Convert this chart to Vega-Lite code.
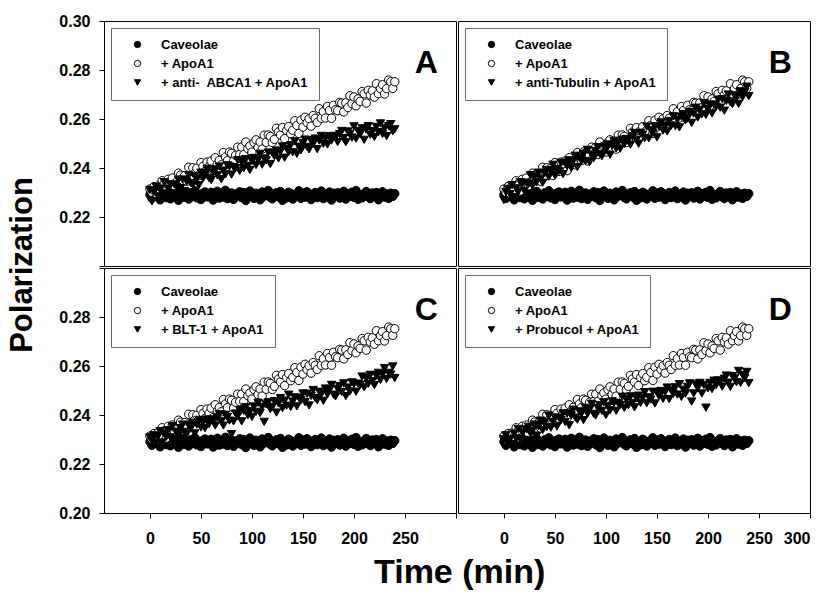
{
"$schema": "https://vega.github.io/schema/vega-lite/v6.json",
"background": "white",
"padding": {"left": 7, "top": 12, "right": 4, "bottom": 5},
"title": {"text": "Polarization", "orient": "left", "anchor": "middle", "fontSize": 31, "fontWeight": "bold", "font": "Liberation Sans", "color": "black", "offset": 19, "dx": 36},
"datasets": {"pts": [
{"series":"cav","t":0,"p":0.2291},{"series":"cav","t":2,"p":0.2276},{"series":"cav","t":4,"p":0.2296},{"series":"cav","t":6,"p":0.2303},{"series":"cav","t":8,"p":0.2283},{"series":"cav","t":10,"p":0.2270},{"series":"cav","t":12,"p":0.2298},{"series":"cav","t":14,"p":0.2290},{"series":"cav","t":16,"p":0.2279},{"series":"cav","t":18,"p":0.2308},
{"series":"cav","t":20,"p":0.2274},{"series":"cav","t":22,"p":0.2294},{"series":"cav","t":24,"p":0.2285},{"series":"cav","t":26,"p":0.2300},{"series":"cav","t":28,"p":0.2268},{"series":"cav","t":30,"p":0.2295},{"series":"cav","t":32,"p":0.2304},{"series":"cav","t":34,"p":0.2280},{"series":"cav","t":36,"p":0.2289},{"series":"cav","t":38,"p":0.2273},
{"series":"cav","t":40,"p":0.2299},{"series":"cav","t":42,"p":0.2284},{"series":"cav","t":44,"p":0.2307},{"series":"cav","t":46,"p":0.2278},{"series":"cav","t":48,"p":0.2293},{"series":"cav","t":50,"p":0.2271},{"series":"cav","t":52,"p":0.2297},{"series":"cav","t":54,"p":0.2302},{"series":"cav","t":56,"p":0.2282},{"series":"cav","t":58,"p":0.2287},
{"series":"cav","t":60,"p":0.2301},{"series":"cav","t":62,"p":0.2269},{"series":"cav","t":64,"p":0.2292},{"series":"cav","t":66,"p":0.2305},{"series":"cav","t":68,"p":0.2277},{"series":"cav","t":70,"p":0.2296},{"series":"cav","t":72,"p":0.2281},{"series":"cav","t":74,"p":0.2309},{"series":"cav","t":76,"p":0.2275},{"series":"cav","t":78,"p":0.2288},
{"series":"cav","t":80,"p":0.2298},{"series":"cav","t":82,"p":0.2272},{"series":"cav","t":84,"p":0.2294},{"series":"cav","t":86,"p":0.2286},{"series":"cav","t":88,"p":0.2303},{"series":"cav","t":90,"p":0.2279},{"series":"cav","t":92,"p":0.2300},{"series":"cav","t":94,"p":0.2267},{"series":"cav","t":96,"p":0.2291},{"series":"cav","t":98,"p":0.2306},
{"series":"cav","t":100,"p":0.2283},{"series":"cav","t":102,"p":0.2276},{"series":"cav","t":104,"p":0.2297},{"series":"cav","t":106,"p":0.2289},{"series":"cav","t":108,"p":0.2270},{"series":"cav","t":110,"p":0.2302},{"series":"cav","t":112,"p":0.2285},{"series":"cav","t":114,"p":0.2295},{"series":"cav","t":116,"p":0.2308},{"series":"cav","t":118,"p":0.2280},
{"series":"cav","t":120,"p":0.2274},{"series":"cav","t":122,"p":0.2293},{"series":"cav","t":124,"p":0.2299},{"series":"cav","t":126,"p":0.2282},{"series":"cav","t":128,"p":0.2304},{"series":"cav","t":130,"p":0.2268},{"series":"cav","t":132,"p":0.2290},{"series":"cav","t":134,"p":0.2278},{"series":"cav","t":136,"p":0.2301},{"series":"cav","t":138,"p":0.2296},
{"series":"cav","t":140,"p":0.2273},{"series":"cav","t":142,"p":0.2292},{"series":"cav","t":144,"p":0.2287},{"series":"cav","t":146,"p":0.2307},{"series":"cav","t":148,"p":0.2276},{"series":"cav","t":150,"p":0.2298},{"series":"cav","t":152,"p":0.2281},{"series":"cav","t":154,"p":0.2303},{"series":"cav","t":156,"p":0.2284},{"series":"cav","t":158,"p":0.2271},
{"series":"cav","t":160,"p":0.2294},{"series":"cav","t":162,"p":0.2300},{"series":"cav","t":164,"p":0.2279},{"series":"cav","t":166,"p":0.2291},{"series":"cav","t":168,"p":0.2306},{"series":"cav","t":170,"p":0.2275},{"series":"cav","t":172,"p":0.2289},{"series":"cav","t":174,"p":0.2282},{"series":"cav","t":176,"p":0.2302},{"series":"cav","t":178,"p":0.2269},
{"series":"cav","t":180,"p":0.2297},{"series":"cav","t":182,"p":0.2286},{"series":"cav","t":184,"p":0.2299},{"series":"cav","t":186,"p":0.2277},{"series":"cav","t":188,"p":0.2293},{"series":"cav","t":190,"p":0.2305},{"series":"cav","t":192,"p":0.2273},{"series":"cav","t":194,"p":0.2295},{"series":"cav","t":196,"p":0.2285},{"series":"cav","t":198,"p":0.2301},
{"series":"cav","t":200,"p":0.2280},{"series":"cav","t":202,"p":0.2308},{"series":"cav","t":204,"p":0.2272},{"series":"cav","t":206,"p":0.2290},{"series":"cav","t":208,"p":0.2278},{"series":"cav","t":210,"p":0.2296},{"series":"cav","t":212,"p":0.2304},{"series":"cav","t":214,"p":0.2283},{"series":"cav","t":216,"p":0.2275},{"series":"cav","t":218,"p":0.2298},
{"series":"cav","t":220,"p":0.2287},{"series":"cav","t":222,"p":0.2300},{"series":"cav","t":224,"p":0.2270},{"series":"cav","t":226,"p":0.2292},{"series":"cav","t":228,"p":0.2303},{"series":"cav","t":230,"p":0.2281},{"series":"cav","t":232,"p":0.2294},{"series":"cav","t":234,"p":0.2276},{"series":"cav","t":236,"p":0.2297},{"series":"cav","t":238,"p":0.2284},{"series":"cav","t":240,"p":0.2295},
{"series":"apo","t":0,"p":0.2314},{"series":"apo","t":2,"p":0.2301},{"series":"apo","t":4,"p":0.2324},{"series":"apo","t":6,"p":0.2296},{"series":"apo","t":8,"p":0.2327},{"series":"apo","t":10,"p":0.2311},{"series":"apo","t":12,"p":0.2348},{"series":"apo","t":14,"p":0.2335},{"series":"apo","t":16,"p":0.2306},{"series":"apo","t":18,"p":0.2354},
{"series":"apo","t":20,"p":0.2338},{"series":"apo","t":22,"p":0.2359},{"series":"apo","t":24,"p":0.2327},{"series":"apo","t":26,"p":0.2343},{"series":"apo","t":28,"p":0.2379},{"series":"apo","t":30,"p":0.2371},{"series":"apo","t":32,"p":0.2347},{"series":"apo","t":34,"p":0.2369},{"series":"apo","t":36,"p":0.2346},{"series":"apo","t":38,"p":0.2403},
{"series":"apo","t":40,"p":0.2365},{"series":"apo","t":42,"p":0.2401},{"series":"apo","t":44,"p":0.2379},{"series":"apo","t":46,"p":0.2399},{"series":"apo","t":48,"p":0.2369},{"series":"apo","t":50,"p":0.2422},{"series":"apo","t":52,"p":0.2407},{"series":"apo","t":54,"p":0.2386},{"series":"apo","t":56,"p":0.2424},{"series":"apo","t":58,"p":0.2407},
{"series":"apo","t":60,"p":0.2428},{"series":"apo","t":62,"p":0.2389},{"series":"apo","t":64,"p":0.2442},{"series":"apo","t":66,"p":0.2416},{"series":"apo","t":68,"p":0.2431},{"series":"apo","t":70,"p":0.2413},{"series":"apo","t":72,"p":0.2463},{"series":"apo","t":74,"p":0.2445},{"series":"apo","t":76,"p":0.2430},{"series":"apo","t":78,"p":0.2465},
{"series":"apo","t":80,"p":0.2460},{"series":"apo","t":82,"p":0.2429},{"series":"apo","t":84,"p":0.2452},{"series":"apo","t":86,"p":0.2485},{"series":"apo","t":88,"p":0.2455},{"series":"apo","t":90,"p":0.2485},{"series":"apo","t":92,"p":0.2455},{"series":"apo","t":94,"p":0.2506},{"series":"apo","t":96,"p":0.2479},{"series":"apo","t":98,"p":0.2490},
{"series":"apo","t":100,"p":0.2465},{"series":"apo","t":102,"p":0.2504},{"series":"apo","t":104,"p":0.2515},{"series":"apo","t":106,"p":0.2484},{"series":"apo","t":108,"p":0.2506},{"series":"apo","t":110,"p":0.2477},{"series":"apo","t":112,"p":0.2534},{"series":"apo","t":114,"p":0.2505},{"series":"apo","t":116,"p":0.2535},{"series":"apo","t":118,"p":0.2529},
{"series":"apo","t":120,"p":0.2504},{"series":"apo","t":122,"p":0.2517},{"series":"apo","t":124,"p":0.2562},{"series":"apo","t":126,"p":0.2547},{"series":"apo","t":128,"p":0.2535},{"series":"apo","t":130,"p":0.2565},{"series":"apo","t":132,"p":0.2520},{"series":"apo","t":134,"p":0.2553},{"series":"apo","t":136,"p":0.2569},{"series":"apo","t":138,"p":0.2540},
{"series":"apo","t":140,"p":0.2554},{"series":"apo","t":142,"p":0.2593},{"series":"apo","t":144,"p":0.2574},{"series":"apo","t":146,"p":0.2541},{"series":"apo","t":148,"p":0.2595},{"series":"apo","t":150,"p":0.2567},{"series":"apo","t":152,"p":0.2607},{"series":"apo","t":154,"p":0.2585},{"series":"apo","t":156,"p":0.2601},{"series":"apo","t":158,"p":0.2571},
{"series":"apo","t":160,"p":0.2614},{"series":"apo","t":162,"p":0.2603},{"series":"apo","t":164,"p":0.2586},{"series":"apo","t":166,"p":0.2642},{"series":"apo","t":168,"p":0.2603},{"series":"apo","t":170,"p":0.2630},{"series":"apo","t":172,"p":0.2604},{"series":"apo","t":174,"p":0.2651},{"series":"apo","t":176,"p":0.2635},{"series":"apo","t":178,"p":0.2603},
{"series":"apo","t":180,"p":0.2656},{"series":"apo","t":182,"p":0.2638},{"series":"apo","t":184,"p":0.2634},{"series":"apo","t":186,"p":0.2668},{"series":"apo","t":188,"p":0.2665},{"series":"apo","t":190,"p":0.2629},{"series":"apo","t":192,"p":0.2666},{"series":"apo","t":194,"p":0.2647},{"series":"apo","t":196,"p":0.2695},{"series":"apo","t":198,"p":0.2663},
{"series":"apo","t":200,"p":0.2690},{"series":"apo","t":202,"p":0.2654},{"series":"apo","t":204,"p":0.2682},{"series":"apo","t":206,"p":0.2672},{"series":"apo","t":208,"p":0.2712},{"series":"apo","t":210,"p":0.2703},{"series":"apo","t":212,"p":0.2665},{"series":"apo","t":214,"p":0.2717},{"series":"apo","t":216,"p":0.2698},{"series":"apo","t":218,"p":0.2715},
{"series":"apo","t":220,"p":0.2689},{"series":"apo","t":222,"p":0.2744},{"series":"apo","t":224,"p":0.2703},{"series":"apo","t":226,"p":0.2724},{"series":"apo","t":228,"p":0.2740},{"series":"apo","t":230,"p":0.2702},{"series":"apo","t":232,"p":0.2724},{"series":"apo","t":234,"p":0.2759},{"series":"apo","t":236,"p":0.2752},{"series":"apo","t":238,"p":0.2725},{"series":"apo","t":240,"p":0.2752},
{"series":"abca1","t":0,"p":0.2310},{"series":"abca1","t":2,"p":0.2264},{"series":"abca1","t":4,"p":0.2302},{"series":"abca1","t":6,"p":0.2324},{"series":"abca1","t":8,"p":0.2284},{"series":"abca1","t":10,"p":0.2316},{"series":"abca1","t":12,"p":0.2296},{"series":"abca1","t":14,"p":0.2342},{"series":"abca1","t":16,"p":0.2292},{"series":"abca1","t":18,"p":0.2315},
{"series":"abca1","t":20,"p":0.2333},{"series":"abca1","t":22,"p":0.2297},{"series":"abca1","t":24,"p":0.2333},{"series":"abca1","t":26,"p":0.2323},{"series":"abca1","t":28,"p":0.2352},{"series":"abca1","t":30,"p":0.2318},{"series":"abca1","t":32,"p":0.2353},{"series":"abca1","t":34,"p":0.2306},{"series":"abca1","t":36,"p":0.2345},{"series":"abca1","t":38,"p":0.2370},
{"series":"abca1","t":40,"p":0.2338},{"series":"abca1","t":42,"p":0.2331},{"series":"abca1","t":44,"p":0.2366},{"series":"abca1","t":46,"p":0.2356},{"series":"abca1","t":48,"p":0.2330},{"series":"abca1","t":50,"p":0.2381},{"series":"abca1","t":52,"p":0.2357},{"series":"abca1","t":54,"p":0.2376},{"series":"abca1","t":56,"p":0.2397},{"series":"abca1","t":58,"p":0.2358},
{"series":"abca1","t":60,"p":0.2351},{"series":"abca1","t":62,"p":0.2382},{"series":"abca1","t":64,"p":0.2394},{"series":"abca1","t":66,"p":0.2370},{"series":"abca1","t":68,"p":0.2406},{"series":"abca1","t":70,"p":0.2354},{"series":"abca1","t":72,"p":0.2389},{"series":"abca1","t":74,"p":0.2374},{"series":"abca1","t":76,"p":0.2411},{"series":"abca1","t":78,"p":0.2406},
{"series":"abca1","t":80,"p":0.2373},{"series":"abca1","t":82,"p":0.2404},{"series":"abca1","t":84,"p":0.2399},{"series":"abca1","t":86,"p":0.2432},{"series":"abca1","t":88,"p":0.2388},{"series":"abca1","t":90,"p":0.2423},{"series":"abca1","t":92,"p":0.2399},{"series":"abca1","t":94,"p":0.2436},{"series":"abca1","t":96,"p":0.2409},{"series":"abca1","t":98,"p":0.2392},
{"series":"abca1","t":100,"p":0.2429},{"series":"abca1","t":102,"p":0.2441},{"series":"abca1","t":104,"p":0.2412},{"series":"abca1","t":106,"p":0.2433},{"series":"abca1","t":108,"p":0.2458},{"series":"abca1","t":110,"p":0.2414},{"series":"abca1","t":112,"p":0.2439},{"series":"abca1","t":114,"p":0.2431},{"series":"abca1","t":116,"p":0.2463},{"series":"abca1","t":118,"p":0.2416},
{"series":"abca1","t":120,"p":0.2462},{"series":"abca1","t":122,"p":0.2448},{"series":"abca1","t":124,"p":0.2471},{"series":"abca1","t":126,"p":0.2439},{"series":"abca1","t":128,"p":0.2467},{"series":"abca1","t":130,"p":0.2488},{"series":"abca1","t":132,"p":0.2442},{"series":"abca1","t":134,"p":0.2479},{"series":"abca1","t":136,"p":0.2465},{"series":"abca1","t":138,"p":0.2493},
{"series":"abca1","t":140,"p":0.2464},{"series":"abca1","t":142,"p":0.2509},{"series":"abca1","t":144,"p":0.2458},{"series":"abca1","t":146,"p":0.2487},{"series":"abca1","t":148,"p":0.2472},{"series":"abca1","t":150,"p":0.2502},{"series":"abca1","t":152,"p":0.2516},{"series":"abca1","t":154,"p":0.2486},{"series":"abca1","t":156,"p":0.2476},{"series":"abca1","t":158,"p":0.2513},
{"series":"abca1","t":160,"p":0.2498},{"series":"abca1","t":162,"p":0.2520},{"series":"abca1","t":164,"p":0.2477},{"series":"abca1","t":166,"p":0.2512},{"series":"abca1","t":168,"p":0.2531},{"series":"abca1","t":170,"p":0.2499},{"series":"abca1","t":172,"p":0.2521},{"series":"abca1","t":174,"p":0.2496},{"series":"abca1","t":176,"p":0.2530},{"series":"abca1","t":178,"p":0.2512},
{"series":"abca1","t":180,"p":0.2531},{"series":"abca1","t":182,"p":0.2527},{"series":"abca1","t":184,"p":0.2506},{"series":"abca1","t":186,"p":0.2538},{"series":"abca1","t":188,"p":0.2551},{"series":"abca1","t":190,"p":0.2522},{"series":"abca1","t":192,"p":0.2505},{"series":"abca1","t":194,"p":0.2549},{"series":"abca1","t":196,"p":0.2539},{"series":"abca1","t":198,"p":0.2524},
{"series":"abca1","t":200,"p":0.2570},{"series":"abca1","t":202,"p":0.2520},{"series":"abca1","t":204,"p":0.2551},{"series":"abca1","t":206,"p":0.2538},{"series":"abca1","t":208,"p":0.2562},{"series":"abca1","t":210,"p":0.2515},{"series":"abca1","t":212,"p":0.2557},{"series":"abca1","t":214,"p":0.2571},{"series":"abca1","t":216,"p":0.2536},{"series":"abca1","t":218,"p":0.2551},
{"series":"abca1","t":220,"p":0.2527},{"series":"abca1","t":222,"p":0.2568},{"series":"abca1","t":224,"p":0.2546},{"series":"abca1","t":226,"p":0.2582},{"series":"abca1","t":228,"p":0.2539},{"series":"abca1","t":230,"p":0.2563},{"series":"abca1","t":232,"p":0.2530},{"series":"abca1","t":234,"p":0.2571},{"series":"abca1","t":236,"p":0.2579},{"series":"abca1","t":238,"p":0.2550},{"series":"abca1","t":240,"p":0.2558},
{"series":"tub","t":0,"p":0.2269},{"series":"tub","t":2,"p":0.2302},{"series":"tub","t":4,"p":0.2315},{"series":"tub","t":6,"p":0.2293},{"series":"tub","t":8,"p":0.2330},{"series":"tub","t":10,"p":0.2280},{"series":"tub","t":12,"p":0.2317},{"series":"tub","t":14,"p":0.2303},{"series":"tub","t":16,"p":0.2342},{"series":"tub","t":18,"p":0.2338},
{"series":"tub","t":20,"p":0.2307},{"series":"tub","t":22,"p":0.2340},{"series":"tub","t":24,"p":0.2336},{"series":"tub","t":26,"p":0.2371},{"series":"tub","t":28,"p":0.2328},{"series":"tub","t":30,"p":0.2365},{"series":"tub","t":32,"p":0.2343},{"series":"tub","t":34,"p":0.2381},{"series":"tub","t":36,"p":0.2356},{"series":"tub","t":38,"p":0.2340},
{"series":"tub","t":40,"p":0.2379},{"series":"tub","t":42,"p":0.2392},{"series":"tub","t":44,"p":0.2364},{"series":"tub","t":46,"p":0.2387},{"series":"tub","t":48,"p":0.2413},{"series":"tub","t":50,"p":0.2370},{"series":"tub","t":52,"p":0.2395},{"series":"tub","t":54,"p":0.2388},{"series":"tub","t":56,"p":0.2421},{"series":"tub","t":58,"p":0.2375},
{"series":"tub","t":60,"p":0.2421},{"series":"tub","t":62,"p":0.2407},{"series":"tub","t":64,"p":0.2431},{"series":"tub","t":66,"p":0.2400},{"series":"tub","t":68,"p":0.2429},{"series":"tub","t":70,"p":0.2450},{"series":"tub","t":72,"p":0.2404},{"series":"tub","t":74,"p":0.2442},{"series":"tub","t":76,"p":0.2429},{"series":"tub","t":78,"p":0.2458},
{"series":"tub","t":80,"p":0.2429},{"series":"tub","t":82,"p":0.2474},{"series":"tub","t":84,"p":0.2424},{"series":"tub","t":86,"p":0.2454},{"series":"tub","t":88,"p":0.2440},{"series":"tub","t":90,"p":0.2470},{"series":"tub","t":92,"p":0.2485},{"series":"tub","t":94,"p":0.2457},{"series":"tub","t":96,"p":0.2448},{"series":"tub","t":98,"p":0.2487},
{"series":"tub","t":100,"p":0.2473},{"series":"tub","t":102,"p":0.2496},{"series":"tub","t":104,"p":0.2454},{"series":"tub","t":106,"p":0.2491},{"series":"tub","t":108,"p":0.2511},{"series":"tub","t":110,"p":0.2480},{"series":"tub","t":112,"p":0.2503},{"series":"tub","t":114,"p":0.2479},{"series":"tub","t":116,"p":0.2515},{"series":"tub","t":118,"p":0.2498},
{"series":"tub","t":120,"p":0.2518},{"series":"tub","t":122,"p":0.2515},{"series":"tub","t":124,"p":0.2495},{"series":"tub","t":126,"p":0.2529},{"series":"tub","t":128,"p":0.2543},{"series":"tub","t":130,"p":0.2515},{"series":"tub","t":132,"p":0.2499},{"series":"tub","t":134,"p":0.2544},{"series":"tub","t":136,"p":0.2536},{"series":"tub","t":138,"p":0.2522},
{"series":"tub","t":140,"p":0.2569},{"series":"tub","t":142,"p":0.2521},{"series":"tub","t":144,"p":0.2554},{"series":"tub","t":146,"p":0.2544},{"series":"tub","t":148,"p":0.2570},{"series":"tub","t":150,"p":0.2525},{"series":"tub","t":152,"p":0.2569},{"series":"tub","t":154,"p":0.2586},{"series":"tub","t":156,"p":0.2553},{"series":"tub","t":158,"p":0.2571},
{"series":"tub","t":160,"p":0.2549},{"series":"tub","t":162,"p":0.2592},{"series":"tub","t":164,"p":0.2573},{"series":"tub","t":166,"p":0.2611},{"series":"tub","t":168,"p":0.2571},{"series":"tub","t":170,"p":0.2597},{"series":"tub","t":172,"p":0.2566},{"series":"tub","t":174,"p":0.2610},{"series":"tub","t":176,"p":0.2620},{"series":"tub","t":178,"p":0.2594},
{"series":"tub","t":180,"p":0.2604},{"series":"tub","t":182,"p":0.2629},{"series":"tub","t":184,"p":0.2584},{"series":"tub","t":186,"p":0.2622},{"series":"tub","t":188,"p":0.2646},{"series":"tub","t":190,"p":0.2606},{"series":"tub","t":192,"p":0.2638},{"series":"tub","t":194,"p":0.2619},{"series":"tub","t":196,"p":0.2665},{"series":"tub","t":198,"p":0.2617},
{"series":"tub","t":200,"p":0.2640},{"series":"tub","t":202,"p":0.2658},{"series":"tub","t":204,"p":0.2623},{"series":"tub","t":206,"p":0.2659},{"series":"tub","t":208,"p":0.2650},{"series":"tub","t":210,"p":0.2679},{"series":"tub","t":212,"p":0.2646},{"series":"tub","t":214,"p":0.2681},{"series":"tub","t":216,"p":0.2634},{"series":"tub","t":218,"p":0.2674},
{"series":"tub","t":220,"p":0.2700},{"series":"tub","t":222,"p":0.2668},{"series":"tub","t":224,"p":0.2661},{"series":"tub","t":226,"p":0.2696},{"series":"tub","t":228,"p":0.2688},{"series":"tub","t":230,"p":0.2662},{"series":"tub","t":232,"p":0.2713},{"series":"tub","t":234,"p":0.2690},{"series":"tub","t":236,"p":0.2710},{"series":"tub","t":238,"p":0.2732},{"series":"tub","t":240,"p":0.2693},
{"series":"blt1","t":0,"p":0.2309},{"series":"blt1","t":2,"p":0.2295},{"series":"blt1","t":4,"p":0.2317},{"series":"blt1","t":6,"p":0.2286},{"series":"blt1","t":8,"p":0.2313},{"series":"blt1","t":10,"p":0.2334},{"series":"blt1","t":12,"p":0.2288},{"series":"blt1","t":14,"p":0.2324},{"series":"blt1","t":16,"p":0.2311},{"series":"blt1","t":18,"p":0.2338},
{"series":"blt1","t":20,"p":0.2309},{"series":"blt1","t":22,"p":0.2354},{"series":"blt1","t":24,"p":0.2302},{"series":"blt1","t":26,"p":0.2332},{"series":"blt1","t":28,"p":0.2316},{"series":"blt1","t":30,"p":0.2346},{"series":"blt1","t":32,"p":0.2361},{"series":"blt1","t":34,"p":0.2331},{"series":"blt1","t":36,"p":0.2322},{"series":"blt1","t":38,"p":0.2359},
{"series":"blt1","t":40,"p":0.2345},{"series":"blt1","t":42,"p":0.2368},{"series":"blt1","t":44,"p":0.2325},{"series":"blt1","t":46,"p":0.2361},{"series":"blt1","t":48,"p":0.2380},{"series":"blt1","t":50,"p":0.2349},{"series":"blt1","t":52,"p":0.2371},{"series":"blt1","t":54,"p":0.2346},{"series":"blt1","t":56,"p":0.2381},{"series":"blt1","t":58,"p":0.2363},
{"series":"blt1","t":60,"p":0.2382},{"series":"blt1","t":62,"p":0.2378},{"series":"blt1","t":64,"p":0.2357},{"series":"blt1","t":66,"p":0.2390},{"series":"blt1","t":68,"p":0.2403},{"series":"blt1","t":70,"p":0.2374},{"series":"blt1","t":72,"p":0.2357},{"series":"blt1","t":74,"p":0.2401},{"series":"blt1","t":76,"p":0.2392},{"series":"blt1","t":78,"p":0.2377},
{"series":"blt1","t":80,"p":0.2322},{"series":"blt1","t":82,"p":0.2374},{"series":"blt1","t":84,"p":0.2406},{"series":"blt1","t":86,"p":0.2395},{"series":"blt1","t":88,"p":0.2420},{"series":"blt1","t":90,"p":0.2374},{"series":"blt1","t":92,"p":0.2417},{"series":"blt1","t":94,"p":0.2432},{"series":"blt1","t":96,"p":0.2399},{"series":"blt1","t":98,"p":0.2415},
{"series":"blt1","t":100,"p":0.2392},{"series":"blt1","t":102,"p":0.2434},{"series":"blt1","t":104,"p":0.2413},{"series":"blt1","t":106,"p":0.2450},{"series":"blt1","t":108,"p":0.2408},{"series":"blt1","t":110,"p":0.2433},{"series":"blt1","t":112,"p":0.2372},{"series":"blt1","t":114,"p":0.2443},{"series":"blt1","t":116,"p":0.2452},{"series":"blt1","t":118,"p":0.2424},
{"series":"blt1","t":120,"p":0.2433},{"series":"blt1","t":122,"p":0.2457},{"series":"blt1","t":124,"p":0.2410},{"series":"blt1","t":126,"p":0.2447},{"series":"blt1","t":128,"p":0.2469},{"series":"blt1","t":130,"p":0.2428},{"series":"blt1","t":132,"p":0.2459},{"series":"blt1","t":134,"p":0.2438},{"series":"blt1","t":136,"p":0.2483},{"series":"blt1","t":138,"p":0.2433},
{"series":"blt1","t":140,"p":0.2455},{"series":"blt1","t":142,"p":0.2472},{"series":"blt1","t":144,"p":0.2435},{"series":"blt1","t":146,"p":0.2470},{"series":"blt1","t":148,"p":0.2460},{"series":"blt1","t":150,"p":0.2488},{"series":"blt1","t":152,"p":0.2453},{"series":"blt1","t":154,"p":0.2487},{"series":"blt1","t":156,"p":0.2439},{"series":"blt1","t":158,"p":0.2478},
{"series":"blt1","t":160,"p":0.2502},{"series":"blt1","t":162,"p":0.2469},{"series":"blt1","t":164,"p":0.2461},{"series":"blt1","t":166,"p":0.2495},{"series":"blt1","t":168,"p":0.2485},{"series":"blt1","t":170,"p":0.2458},{"series":"blt1","t":172,"p":0.2508},{"series":"blt1","t":174,"p":0.2484},{"series":"blt1","t":176,"p":0.2502},{"series":"blt1","t":178,"p":0.2523},
{"series":"blt1","t":180,"p":0.2483},{"series":"blt1","t":182,"p":0.2476},{"series":"blt1","t":184,"p":0.2507},{"series":"blt1","t":186,"p":0.2518},{"series":"blt1","t":188,"p":0.2494},{"series":"blt1","t":190,"p":0.2529},{"series":"blt1","t":192,"p":0.2477},{"series":"blt1","t":194,"p":0.2512},{"series":"blt1","t":196,"p":0.2496},{"series":"blt1","t":198,"p":0.2533},
{"series":"blt1","t":200,"p":0.2527},{"series":"blt1","t":202,"p":0.2495},{"series":"blt1","t":204,"p":0.2528},{"series":"blt1","t":206,"p":0.2523},{"series":"blt1","t":208,"p":0.2557},{"series":"blt1","t":210,"p":0.2513},{"series":"blt1","t":212,"p":0.2550},{"series":"blt1","t":214,"p":0.2527},{"series":"blt1","t":216,"p":0.2564},{"series":"blt1","t":218,"p":0.2538},
{"series":"blt1","t":220,"p":0.2522},{"series":"blt1","t":222,"p":0.2560},{"series":"blt1","t":224,"p":0.2572},{"series":"blt1","t":226,"p":0.2543},{"series":"blt1","t":228,"p":0.2566},{"series":"blt1","t":230,"p":0.2591},{"series":"blt1","t":232,"p":0.2547},{"series":"blt1","t":234,"p":0.2572},{"series":"blt1","t":236,"p":0.2565},{"series":"blt1","t":238,"p":0.2598},{"series":"blt1","t":240,"p":0.2551},
{"series":"prob","t":0,"p":0.2301},{"series":"prob","t":2,"p":0.2317},{"series":"prob","t":4,"p":0.2285},{"series":"prob","t":6,"p":0.2302},{"series":"prob","t":8,"p":0.2281},{"series":"prob","t":10,"p":0.2324},{"series":"prob","t":12,"p":0.2304},{"series":"prob","t":14,"p":0.2343},{"series":"prob","t":16,"p":0.2302},{"series":"prob","t":18,"p":0.2329},
{"series":"prob","t":20,"p":0.2298},{"series":"prob","t":22,"p":0.2341},{"series":"prob","t":24,"p":0.2352},{"series":"prob","t":26,"p":0.2325},{"series":"prob","t":28,"p":0.2336},{"series":"prob","t":30,"p":0.2361},{"series":"prob","t":32,"p":0.2315},{"series":"prob","t":34,"p":0.2354},{"series":"prob","t":36,"p":0.2377},{"series":"prob","t":38,"p":0.2338},
{"series":"prob","t":40,"p":0.2370},{"series":"prob","t":42,"p":0.2350},{"series":"prob","t":44,"p":0.2397},{"series":"prob","t":46,"p":0.2348},{"series":"prob","t":48,"p":0.2372},{"series":"prob","t":50,"p":0.2390},{"series":"prob","t":52,"p":0.2353},{"series":"prob","t":54,"p":0.2388},{"series":"prob","t":56,"p":0.2379},{"series":"prob","t":58,"p":0.2407},
{"series":"prob","t":60,"p":0.2372},{"series":"prob","t":62,"p":0.2406},{"series":"prob","t":64,"p":0.2358},{"series":"prob","t":66,"p":0.2398},{"series":"prob","t":68,"p":0.2422},{"series":"prob","t":70,"p":0.2389},{"series":"prob","t":72,"p":0.2381},{"series":"prob","t":74,"p":0.2415},{"series":"prob","t":76,"p":0.2406},{"series":"prob","t":78,"p":0.2379},
{"series":"prob","t":80,"p":0.2429},{"series":"prob","t":82,"p":0.2405},{"series":"prob","t":84,"p":0.2423},{"series":"prob","t":86,"p":0.2445},{"series":"prob","t":88,"p":0.2405},{"series":"prob","t":90,"p":0.2398},{"series":"prob","t":92,"p":0.2429},{"series":"prob","t":94,"p":0.2440},{"series":"prob","t":96,"p":0.2417},{"series":"prob","t":98,"p":0.2452},
{"series":"prob","t":100,"p":0.2400},{"series":"prob","t":102,"p":0.2435},{"series":"prob","t":104,"p":0.2419},{"series":"prob","t":106,"p":0.2456},{"series":"prob","t":108,"p":0.2450},{"series":"prob","t":110,"p":0.2417},{"series":"prob","t":112,"p":0.2448},{"series":"prob","t":114,"p":0.2441},{"series":"prob","t":116,"p":0.2474},{"series":"prob","t":118,"p":0.2429},
{"series":"prob","t":120,"p":0.2464},{"series":"prob","t":122,"p":0.2440},{"series":"prob","t":124,"p":0.2476},{"series":"prob","t":126,"p":0.2449},{"series":"prob","t":128,"p":0.2431},{"series":"prob","t":130,"p":0.2468},{"series":"prob","t":132,"p":0.2479},{"series":"prob","t":134,"p":0.2449},{"series":"prob","t":136,"p":0.2470},{"series":"prob","t":138,"p":0.2493},
{"series":"prob","t":140,"p":0.2448},{"series":"prob","t":142,"p":0.2472},{"series":"prob","t":144,"p":0.2463},{"series":"prob","t":146,"p":0.2495},{"series":"prob","t":148,"p":0.2447},{"series":"prob","t":150,"p":0.2492},{"series":"prob","t":152,"p":0.2477},{"series":"prob","t":154,"p":0.2498},{"series":"prob","t":156,"p":0.2466},{"series":"prob","t":158,"p":0.2493},
{"series":"prob","t":160,"p":0.2512},{"series":"prob","t":162,"p":0.2465},{"series":"prob","t":164,"p":0.2501},{"series":"prob","t":166,"p":0.2486},{"series":"prob","t":168,"p":0.2513},{"series":"prob","t":170,"p":0.2483},{"series":"prob","t":172,"p":0.2526},{"series":"prob","t":174,"p":0.2474},{"series":"prob","t":176,"p":0.2503},{"series":"prob","t":178,"p":0.2487},
{"series":"prob","t":180,"p":0.2515},{"series":"prob","t":182,"p":0.2529},{"series":"prob","t":184,"p":0.2455},{"series":"prob","t":186,"p":0.2488},{"series":"prob","t":188,"p":0.2525},{"series":"prob","t":190,"p":0.2510},{"series":"prob","t":192,"p":0.2531},{"series":"prob","t":194,"p":0.2488},{"series":"prob","t":196,"p":0.2523},{"series":"prob","t":198,"p":0.2430},
{"series":"prob","t":200,"p":0.2509},{"series":"prob","t":202,"p":0.2531},{"series":"prob","t":204,"p":0.2506},{"series":"prob","t":206,"p":0.2540},{"series":"prob","t":208,"p":0.2522},{"series":"prob","t":210,"p":0.2541},{"series":"prob","t":212,"p":0.2537},{"series":"prob","t":214,"p":0.2516},{"series":"prob","t":216,"p":0.2548},{"series":"prob","t":218,"p":0.2561},
{"series":"prob","t":220,"p":0.2532},{"series":"prob","t":222,"p":0.2515},{"series":"prob","t":224,"p":0.2559},{"series":"prob","t":226,"p":0.2549},{"series":"prob","t":228,"p":0.2534},{"series":"prob","t":230,"p":0.2580},{"series":"prob","t":232,"p":0.2531},{"series":"prob","t":234,"p":0.2563},{"series":"prob","t":236,"p":0.2551},{"series":"prob","t":238,"p":0.2576},{"series":"prob","t":240,"p":0.2530}
]},
"spacing": 0,
"resolve": {"scale": {"x": "independent", "y": "independent", "shape": "independent", "fill": "independent"}, "legend": {"shape": "independent", "fill": "independent"}},
"vconcat": [
 {
  "spacing": 0,
  "resolve": {"scale": {"x": "independent", "y": "independent", "shape": "independent", "fill": "independent"}, "legend": {"shape": "independent", "fill": "independent"}},
  "hconcat": [
   {
    "width": 352, "height": 245,
    "layer": [
     {
      "data": {"name": "pts"},
      "transform": [{"filter": {"field": "series", "oneOf": ["cav", "apo", "abca1"]}}],
      "mark": {"type": "point", "size": 70, "opacity": 1, "stroke": "black", "strokeWidth": 1},
      "encoding": {
       "x": {"field": "t", "type": "quantitative", "scale": {"domain": [-45, 300], "nice": false, "zero": false}, "axis": null},
       "y": {"field": "p", "type": "quantitative", "scale": {"domain": [0.2, 0.3], "nice": false, "zero": false}, "axis": {"values": [0.2, 0.22, 0.24, 0.26, 0.28, 0.3], "format": ".2f", "labelExpr": "datum.value < 0.21 ? '' : datum.label"}},
       "shape": {"field": "series", "type": "nominal", "scale": {"domain": ["cav", "apo", "abca1"], "range": ["circle", "circle", "triangle-down"]}, "legend": {"title": null, "labelExpr": "datum.value == 'cav' ? 'Caveolae' : datum.value == 'apo' ? '+ ApoA1' : '+ anti-\u00a0 ABCA1 + ApoA1'", "encode": {"labels": {"fontWeight": {"condition": {"test": "datum.value == 'abca1'", "value": "normal"}, "value": "bold"}}, "symbols": {"fill": {"condition": {"test": "datum.value == 'apo'", "value": "white"}, "value": "black"}, "stroke": {"value": "black"}, "strokeWidth": {"value": 1}}}}},
       "fill": {"field": "series", "type": "nominal", "scale": {"domain": ["cav", "apo", "abca1"], "range": ["black", "white", "black"]}, "legend": null}
      }
     },
     {
      "data": {"values": [{"panel": "A"}]},
      "mark": {"type": "text", "fontSize": 32, "fontWeight": "bold", "font": "Liberation Sans", "color": "black", "align": "center", "baseline": "middle"},
      "encoding": {"x": {"datum": 271}, "y": {"datum": 0.283}, "text": {"field": "panel"}}
     }
    ]
   },
   {
    "width": 352, "height": 245,
    "layer": [
     {
      "data": {"name": "pts"},
      "transform": [{"filter": {"field": "series", "oneOf": ["cav", "apo", "tub"]}}],
      "mark": {"type": "point", "size": 70, "opacity": 1, "stroke": "black", "strokeWidth": 1},
      "encoding": {
       "x": {"field": "t", "type": "quantitative", "scale": {"domain": [-45, 300], "nice": false, "zero": false}, "axis": null},
       "y": {"field": "p", "type": "quantitative", "scale": {"domain": [0.2, 0.3], "nice": false, "zero": false}, "axis": null},
       "shape": {"field": "series", "type": "nominal", "scale": {"domain": ["cav", "apo", "tub"], "range": ["circle", "circle", "triangle-down"]}, "legend": {"title": null, "labelExpr": "datum.value == 'cav' ? 'Caveolae' : datum.value == 'apo' ? '+ ApoA1' : '+ anti-Tubulin + ApoA1'", "encode": {"symbols": {"fill": {"condition": {"test": "datum.value == 'apo'", "value": "white"}, "value": "black"}, "stroke": {"value": "black"}, "strokeWidth": {"value": 1}}}}},
       "fill": {"field": "series", "type": "nominal", "scale": {"domain": ["cav", "apo", "tub"], "range": ["black", "white", "black"]}, "legend": null}
      }
     },
     {
      "data": {"values": [{"panel": "B"}]},
      "mark": {"type": "text", "fontSize": 32, "fontWeight": "bold", "font": "Liberation Sans", "color": "black", "align": "center", "baseline": "middle"},
      "encoding": {"x": {"datum": 271}, "y": {"datum": 0.283}, "text": {"field": "panel"}}
     }
    ]
   }
  ]
 },
 {
  "spacing": 0,
  "title": {"text": "Time (min)", "orient": "bottom", "anchor": "middle", "fontSize": 34, "fontWeight": "bold", "font": "Liberation Sans", "color": "black", "offset": 9, "dx": 25},
  "resolve": {"scale": {"x": "independent", "y": "independent", "shape": "independent", "fill": "independent"}, "legend": {"shape": "independent", "fill": "independent"}},
  "hconcat": [
   {
    "width": 352, "height": 245,
    "layer": [
     {
      "data": {"name": "pts"},
      "transform": [{"filter": {"field": "series", "oneOf": ["cav", "apo", "blt1"]}}],
      "mark": {"type": "point", "size": 70, "opacity": 1, "stroke": "black", "strokeWidth": 1},
      "encoding": {
       "x": {"field": "t", "type": "quantitative", "scale": {"domain": [-45, 300], "nice": false, "zero": false}, "axis": {"values": [0, 50, 100, 150, 200, 250, 300], "format": "d", "labelExpr": "datum.value == 300 ? '' : datum.label"}},
       "y": {"field": "p", "type": "quantitative", "scale": {"domain": [0.2, 0.3], "nice": false, "zero": false}, "axis": {"values": [0.2, 0.22, 0.24, 0.26, 0.28, 0.3], "format": ".2f", "labelExpr": "datum.value > 0.29 ? '' : datum.label"}},
       "shape": {"field": "series", "type": "nominal", "scale": {"domain": ["cav", "apo", "blt1"], "range": ["circle", "circle", "triangle-down"]}, "legend": {"title": null, "labelExpr": "datum.value == 'cav' ? 'Caveolae' : datum.value == 'apo' ? '+ ApoA1' : '+ BLT-1 + ApoA1'", "encode": {"symbols": {"fill": {"condition": {"test": "datum.value == 'apo'", "value": "white"}, "value": "black"}, "stroke": {"value": "black"}, "strokeWidth": {"value": 1}}}}},
       "fill": {"field": "series", "type": "nominal", "scale": {"domain": ["cav", "apo", "blt1"], "range": ["black", "white", "black"]}, "legend": null}
      }
     },
     {
      "data": {"values": [{"panel": "C"}]},
      "mark": {"type": "text", "fontSize": 32, "fontWeight": "bold", "font": "Liberation Sans", "color": "black", "align": "center", "baseline": "middle"},
      "encoding": {"x": {"datum": 271}, "y": {"datum": 0.283}, "text": {"field": "panel"}}
     }
    ]
   },
   {
    "width": 352, "height": 245,
    "layer": [
     {
      "data": {"name": "pts"},
      "transform": [{"filter": {"field": "series", "oneOf": ["cav", "apo", "prob"]}}],
      "mark": {"type": "point", "size": 70, "opacity": 1, "stroke": "black", "strokeWidth": 1},
      "encoding": {
       "x": {"field": "t", "type": "quantitative", "scale": {"domain": [-45, 300], "nice": false, "zero": false}, "axis": {"values": [0, 50, 100, 150, 200, 250, 300], "format": "d"}},
       "y": {"field": "p", "type": "quantitative", "scale": {"domain": [0.2, 0.3], "nice": false, "zero": false}, "axis": null},
       "shape": {"field": "series", "type": "nominal", "scale": {"domain": ["cav", "apo", "prob"], "range": ["circle", "circle", "triangle-down"]}, "legend": {"title": null, "labelExpr": "datum.value == 'cav' ? 'Caveolae' : datum.value == 'apo' ? '+ ApoA1' : '+ Probucol + ApoA1'", "encode": {"symbols": {"fill": {"condition": {"test": "datum.value == 'apo'", "value": "white"}, "value": "black"}, "stroke": {"value": "black"}, "strokeWidth": {"value": 1}}}}},
       "fill": {"field": "series", "type": "nominal", "scale": {"domain": ["cav", "apo", "prob"], "range": ["black", "white", "black"]}, "legend": null}
      }
     },
     {
      "data": {"values": [{"panel": "D"}]},
      "mark": {"type": "text", "fontSize": 32, "fontWeight": "bold", "font": "Liberation Sans", "color": "black", "align": "center", "baseline": "middle"},
      "encoding": {"x": {"datum": 271}, "y": {"datum": 0.283}, "text": {"field": "panel"}}
     }
    ]
   }
  ]
 }
],
"config": {
 "font": "Liberation Sans",
 "view": {"stroke": "black", "strokeWidth": 1},
 "axis": {"grid": false, "domain": false, "ticks": true, "tickColor": "black", "tickSize": 5, "tickWidth": 1, "labelFont": "Liberation Sans", "labelFontSize": 16, "labelFontWeight": "bold", "labelColor": "black", "title": null},
 "axisY": {"labelPadding": 9},
 "axisX": {"labelPadding": 12},
 "legend": {"orient": "top-left", "offset": 7, "padding": 10, "strokeColor": "#666666", "strokeWidth": 1, "fillColor": "white", "labelFont": "Liberation Sans", "labelFontSize": 13, "labelFontWeight": "bold", "labelColor": "black", "symbolSize": 40, "symbolStrokeWidth": 1, "rowPadding": 5, "labelOffset": 17, "symbolOffset": 10, "title": null}
}
}
